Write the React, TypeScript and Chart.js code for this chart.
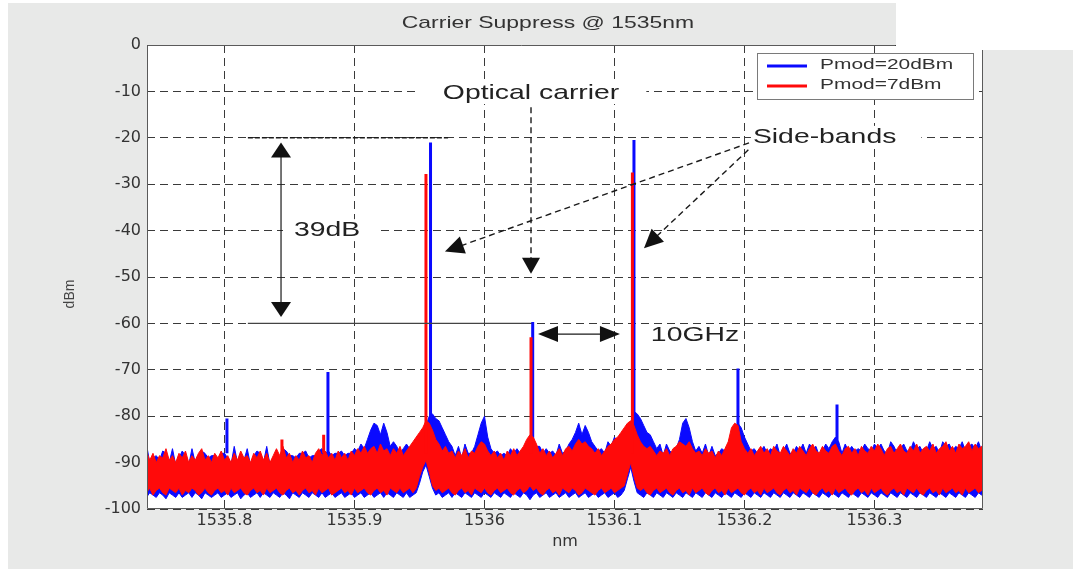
import React, { useEffect, useRef } from 'react';
import { Chart, registerables } from 'chart.js';

Chart.register(...registerables);

// ---------- texts ----------
const TITLE = 'Carrier Suppress @ 1535nm';
const X_LABEL = 'nm';
const Y_LABEL = 'dBm';
const SERIES_NAMES = ['Pmod=20dBm', 'Pmod=7dBm'];

// ---------- axes ----------
const X_MIN = 1535.7404;
const X_MAX = 1536.3835;
const Y_MIN = -100;
const Y_MAX = 0;
const X_TICKS = [1535.8, 1535.9, 1536, 1536.1, 1536.2, 1536.3];
const Y_TICKS = [-100, -90, -80, -70, -60, -50, -40, -30, -20, -10, 0];

// ---------- spectrum sampling grid (nm) ----------
const SAMPLE_START_NM = 1535.74;
const SAMPLE_STEP_NM = 0.0025;

// ---------- noise floor envelopes (dBm) ----------
const BLUE_FLOOR_TOP = [
  -86.0, -90.0, -89.0, -88.5, -89.5, -87.5, -88.0, -90.0, -87.0, -90.5,
  -89.0, -87.5, -88.5, -90.5, -87.0, -90.0, -88.5, -87.5, -88.0, -89.0,
  -88.5, -88.5, -89.5, -88.0, -88.0, -89.0, -90.5, -86.5, -90.0, -88.0,
  -89.5, -87.0, -90.5, -88.5, -87.5, -88.0, -90.0, -86.5, -90.5, -89.0,
  -87.5, -89.0, -87.0, -87.5, -88.5, -88.5, -89.0, -88.0, -88.0, -87.5,
  -89.0, -88.5, -88.5, -87.5, -87.0, -88.0, -87.5, -88.5, -88.0, -88.0,
  -87.5, -88.5, -88.0, -88.0, -87.0, -87.5, -86.0, -87.0, -85.0, -83.0,
  -81.5, -82.0, -84.0, -81.5, -83.5, -86.5, -85.5, -86.5, -88.0, -87.0,
  -86.0, -87.0, -86.0, -85.0, -84.0, -83.0, -82.0, -80.0, -79.5, -80.5,
  -81.0, -82.5, -84.0, -85.5, -86.5, -88.5, -86.5, -89.0, -86.0, -88.0,
  -88.0, -86.5, -84.0, -81.5, -80.0, -84.5, -87.0, -88.0, -87.5, -88.5,
  -88.0, -88.5, -87.0, -88.0, -87.0, -88.0, -87.5, -86.0, -85.0, -85.5,
  -86.5, -86.5, -88.0, -87.0, -88.0, -87.5, -88.5, -86.0, -88.0, -87.5,
  -86.0, -85.0, -83.5, -81.5, -84.0, -82.0, -83.5, -85.5, -86.5, -87.5,
  -87.0, -88.0, -85.5, -86.5, -84.5, -85.5, -84.0, -83.0, -82.0, -81.5,
  -79.0, -79.5, -80.5, -82.0, -83.5, -84.0, -85.5, -87.0, -86.0, -88.5,
  -86.0, -87.5, -88.0, -87.0, -85.0, -81.5, -80.5, -82.5, -85.5, -87.5,
  -86.5, -88.0, -86.0, -88.5, -86.5, -88.5, -88.0, -87.0, -87.5, -86.0,
  -84.0, -83.5, -81.5, -82.5, -84.5, -86.0, -87.5, -87.0, -88.0, -87.5,
  -86.5, -88.0, -87.0, -87.5, -86.0, -88.5, -87.5, -86.0, -88.0, -88.0,
  -86.5, -87.5, -86.0, -88.0, -86.0, -87.0, -86.5, -88.5, -87.5, -86.0,
  -87.0, -85.5, -84.5, -85.5, -88.0, -86.0, -87.5, -86.5, -87.5, -87.0,
  -87.5, -86.0, -87.0, -87.5, -86.0, -87.0, -86.0, -87.5, -88.0, -85.5,
  -86.5, -88.0, -87.0, -86.0, -87.5, -87.5, -85.5, -87.0, -86.5, -88.0,
  -87.5, -85.5, -87.0, -86.5, -88.0, -85.5, -86.5, -86.0, -87.5, -86.5,
  -87.0, -85.5, -87.5, -86.5, -86.0, -87.0, -85.5, -87.5, -86.5,
];
const BLUE_FLOOR_BOTTOM = [
  -97.5, -96.5, -97.0, -97.5, -96.5, -97.0, -97.8, -96.5, -97.0, -97.5,
  -96.5, -97.5, -97.0, -96.5, -97.5, -96.5, -97.0, -97.8, -96.5, -97.0,
  -97.5, -97.0, -96.5, -97.5, -97.0, -96.5, -97.5, -97.0, -96.5, -97.8,
  -97.0, -96.5, -97.5, -97.0, -96.5, -97.5, -96.5, -97.0, -97.5, -96.5,
  -97.0, -97.5, -96.5, -97.0, -97.8, -96.5, -97.0, -97.5, -96.5, -97.0,
  -97.5, -96.5, -97.0, -97.5, -96.5, -97.5, -97.0, -96.5, -97.5, -97.0,
  -96.5, -97.5, -97.0, -96.5, -97.5, -97.0, -96.5, -97.5, -97.0, -96.5,
  -97.5, -97.0, -96.5, -97.5, -96.5, -97.0, -97.5, -96.5, -97.0, -97.5,
  -96.5, -97.5, -97.0, -96.5, -94.5, -92.0, -90.5, -93.0, -95.5, -97.0,
  -96.5, -97.5, -97.0, -96.5, -97.5, -96.5, -97.0, -97.5, -96.5, -97.0,
  -97.5, -96.5, -97.0, -97.5, -96.5, -97.0, -97.5, -96.5, -97.0, -97.5,
  -96.5, -97.0, -97.5, -96.5, -97.0, -97.5, -96.5, -97.0, -98.0, -97.0,
  -96.5, -97.5, -97.0, -96.5, -97.5, -97.0, -96.5, -97.5, -97.0, -96.5,
  -97.5, -97.0, -96.5, -97.5, -97.0, -96.5, -97.5, -97.0, -96.5, -97.5,
  -97.0, -96.5, -97.5, -97.0, -96.5, -97.5, -97.0, -96.0, -93.5, -91.0,
  -94.0, -96.5, -97.0, -97.5, -96.5, -97.0, -97.5, -96.5, -97.0, -97.5,
  -96.5, -97.0, -97.5, -96.5, -97.0, -97.5, -96.5, -97.0, -97.5, -96.5,
  -97.0, -97.5, -96.5, -97.0, -97.5, -96.5, -97.0, -97.5, -96.5, -97.0,
  -97.5, -96.5, -97.0, -97.5, -96.5, -97.0, -97.5, -96.5, -97.0, -97.5,
  -96.5, -97.0, -97.5, -96.5, -97.0, -97.5, -96.5, -97.0, -97.5, -96.5,
  -97.0, -97.5, -96.5, -97.0, -97.5, -96.5, -97.0, -97.5, -96.5, -97.0,
  -97.5, -96.5, -97.0, -97.5, -96.5, -97.0, -97.5, -96.5, -97.0, -97.5,
  -96.5, -97.0, -97.5, -96.5, -97.0, -97.5, -96.5, -97.0, -97.5, -96.5,
  -97.0, -97.5, -96.5, -97.0, -97.5, -96.5, -97.0, -97.5, -96.5, -97.0,
  -97.5, -96.5, -97.0, -97.5, -96.5, -97.0, -97.5, -96.5, -97.0, -97.5,
  -96.5, -97.0, -97.5, -96.5, -97.0, -97.5, -96.5, -97.0, -97.5,
];
const RED_FLOOR_TOP = [
  -87.5, -89.5, -88.0, -90.0, -88.5, -89.0, -87.0, -89.5, -88.5, -90.0,
  -88.0, -89.0, -87.5, -90.0, -88.5, -89.5, -88.0, -87.0, -89.5, -88.5,
  -90.0, -88.0, -89.0, -87.5, -89.5, -88.5, -90.0, -88.0, -89.5, -87.5,
  -89.0, -88.5, -90.0, -88.0, -89.0, -87.5, -89.5, -88.0, -90.0, -88.5,
  -87.0, -88.5, -86.5, -89.0, -88.0, -90.0, -88.5, -89.5, -87.5, -89.0,
  -88.5, -90.0, -88.0, -87.0, -88.5, -87.5, -89.0, -88.0, -89.5, -87.5,
  -89.0, -88.0, -89.5, -87.5, -88.5, -87.0, -88.0, -86.5, -88.0, -87.0,
  -86.5, -88.0, -86.0, -87.5, -87.0, -88.5, -87.0, -88.0, -86.5, -88.5,
  -87.5, -86.5, -85.5, -84.5, -83.5, -82.5, -81.0, -81.5, -83.0, -85.0,
  -86.0, -87.5, -86.5, -88.0, -87.5, -89.0, -87.5, -88.5, -87.0, -89.0,
  -87.5, -88.0, -86.5, -85.5, -86.0, -87.5, -88.5, -87.5, -89.0, -88.0,
  -89.5, -87.5, -88.5, -87.0, -88.5, -87.5, -86.5, -85.0, -84.0, -84.5,
  -86.0, -88.0, -87.0, -88.5, -87.5, -89.0, -88.0, -87.0, -88.5, -87.0,
  -86.5, -87.5, -86.0, -85.0, -86.0, -85.5, -86.5, -87.0, -88.0, -87.0,
  -88.5, -87.5, -86.5, -86.0, -85.0, -84.5, -83.5, -82.5, -81.5, -81.0,
  -82.0, -84.0, -85.5, -86.5, -87.0, -86.5, -87.5, -88.5, -87.5, -88.0,
  -87.0, -88.5, -87.0, -86.5, -85.5, -86.0, -86.5, -85.5, -87.0, -88.0,
  -87.5, -88.5, -87.0, -88.0, -87.5, -89.0, -87.5, -88.5, -87.0, -85.5,
  -82.5, -81.5, -82.0, -85.5, -87.0, -88.0, -87.0, -88.5, -87.5, -86.5,
  -88.0, -87.0, -88.5, -86.5, -87.5, -88.0, -86.5, -87.5, -88.5, -87.0,
  -88.0, -86.5, -87.5, -88.5, -87.0, -86.0, -87.5, -88.0, -86.5, -87.5,
  -88.0, -86.5, -86.0, -87.5, -88.5, -87.0, -86.5, -88.0, -87.0, -88.5,
  -86.5, -87.5, -88.0, -86.5, -87.5, -86.0, -87.0, -88.5, -87.0, -86.5,
  -88.0, -87.0, -86.0, -87.5, -88.0, -86.5, -87.5, -86.0, -88.0, -87.0,
  -86.5, -87.5, -86.0, -88.0, -87.0, -86.5, -85.5, -87.5, -86.5, -88.0,
  -86.0, -87.0, -86.5, -85.5, -87.5, -86.0, -87.0, -86.5, -87.0,
];
const RED_FLOOR_BOTTOM = [
  -96.5, -95.5, -97.0, -96.0, -95.5, -96.5, -97.0, -95.5, -96.0, -96.5,
  -95.5, -97.0, -96.0, -96.5, -95.5, -96.0, -97.0, -96.5, -95.5, -96.5,
  -97.0, -96.0, -95.5, -96.5, -96.0, -97.0, -95.5, -96.5, -96.0, -95.5,
  -96.5, -97.0, -96.0, -95.5, -96.5, -96.0, -97.0, -95.5, -96.5, -96.0,
  -95.5, -96.5, -97.0, -96.0, -95.5, -96.5, -96.0, -97.0, -96.0, -95.5,
  -96.5, -96.0, -97.0, -95.5, -96.5, -96.0, -95.5, -97.0, -96.5, -96.0,
  -95.5, -96.5, -96.0, -97.0, -95.5, -96.5, -96.0, -95.5, -96.5, -97.0,
  -96.0, -95.5, -96.5, -96.0, -97.0, -95.5, -96.0, -96.5, -95.5, -96.5,
  -96.0, -95.5, -96.5, -95.5, -93.0, -91.0, -89.5, -92.0, -95.0, -96.0,
  -95.5, -96.5, -96.0, -95.5, -96.5, -97.0, -96.0, -95.5, -96.5, -96.0,
  -97.0, -95.5, -96.0, -96.5, -95.5, -96.5, -97.0, -96.0, -95.5, -96.5,
  -96.0, -95.5, -96.5, -97.0, -96.0, -95.5, -96.5, -96.0, -95.0, -96.0,
  -95.5, -96.5, -97.0, -96.0, -95.5, -96.5, -96.0, -97.0, -95.5, -96.0,
  -96.5, -95.5, -96.0, -97.0, -96.5, -95.5, -96.0, -96.5, -97.0, -96.0,
  -95.5, -96.5, -96.0, -95.5, -96.5, -96.0, -95.5, -95.0, -92.5, -90.0,
  -93.0, -95.5, -96.0, -95.5, -96.5, -97.0, -96.0, -95.5, -96.5, -96.0,
  -95.5, -96.5, -97.0, -96.0, -95.5, -96.5, -96.0, -97.0, -95.5, -96.5,
  -96.0, -95.5, -96.5, -97.0, -96.0, -95.5, -96.5, -96.0, -97.0, -95.5,
  -96.5, -96.0, -95.5, -96.5, -97.0, -96.0, -95.5, -96.5, -96.0, -97.0,
  -95.5, -96.5, -96.0, -95.5, -96.5, -97.0, -96.0, -95.5, -96.5, -96.0,
  -97.0, -95.5, -96.0, -96.5, -95.5, -96.5, -97.0, -96.0, -95.5, -96.5,
  -96.0, -97.0, -95.5, -96.5, -96.0, -95.5, -96.5, -97.0, -96.0, -95.5,
  -96.5, -96.0, -97.0, -95.5, -96.5, -96.0, -95.5, -96.5, -97.0, -96.0,
  -95.5, -96.5, -96.0, -97.0, -95.5, -96.0, -96.5, -95.5, -96.5, -97.0,
  -96.0, -95.5, -96.5, -96.0, -97.0, -95.5, -96.5, -96.0, -95.5, -96.5,
  -96.0, -97.0, -95.5, -96.5, -96.0, -95.5, -96.5, -96.0, -96.5,
];

// ---------- spectral lines (nm, peak dBm) ----------
const BLUE_LINE_NM = [1535.8019, 1535.8796, 1535.9585, 1536.0371, 1536.115, 1536.195, 1536.2712];
const BLUE_LINE_PEAK = [-80.5, -70.5, -21, -59.7, -20.5, -69.7, -77.5];
const RED_LINE_NM = [1535.8442, 1535.8763, 1535.955, 1536.0358, 1536.1138];
const RED_LINE_PEAK = [-85, -84, -27.8, -63, -27.5];
const LINE_BASE_DBM = -88;

// ---------- annotations (data units) ----------
const ANN_LABELS = [
  { text: 'Optical carrier', nm: 1535.968, dbm: -10.35, padL: 26, padR: 27 },
  { text: '39dB', nm: 1535.8535, dbm: -39.9, padL: 11, padR: 19 },
  { text: 'Side-bands', nm: 1536.2065, dbm: -19.8, padL: 2, padR: 25 },
  { text: '10GHz', nm: 1536.128, dbm: -62.5, padL: 0, padR: 0 },
];
const REF_TOP = { nm1: 1535.818, nm2: 1535.972, dbm: -20 };
const REF_BOTTOM = { nm1: 1535.818, nm2: 1536.036, dbm: -60 };
const DB_ARROW = { nm: 1535.8435, dbm1: -21, dbm2: -58.6 };
const CARRIER_ARROW = { nm: 1536.0358, dbm1: -13.4, dbm2: -49.3 };
const SIDEBAND_ARROWS = [
  { nm1: 1536.2035, dbm1: -21.1, nm2: 1535.9696, dbm2: -44.5 },
  { nm1: 1536.203, dbm1: -22.6, nm2: 1536.1227, dbm2: -43.8 },
];
const GHZ_ARROW = { nm1: 1536.0412, nm2: 1536.1042, dbm: -62.3 };

// ---------- style ----------
const BLUE = '#0a0aff';
const RED = '#ff0a0a';
const GREY_BG = '#e8e9e8';
const TEXT = '#333333';
const STRETCH = 1.35;
const SANS = '"Liberation Sans", Arial, Helvetica, sans-serif';

function floorPoints(values: number[]) {
  return values.map((y, i) => ({ x: SAMPLE_START_NM + i * SAMPLE_STEP_NM, y }));
}

function linePoints(xs: number[], peaks: number[]) {
  const pts: { x: number; y: number | null }[] = [];
  xs.forEach((x, k) => {
    pts.push({ x, y: LINE_BASE_DBM }, { x, y: peaks[k] }, { x, y: null });
  });
  return pts;
}

function sText(ctx: CanvasRenderingContext2D, text: string, x: number, y: number, size: number, align: CanvasTextAlign, color: string) {
  ctx.save();
  ctx.translate(x, y);
  ctx.scale(STRETCH, 1);
  ctx.font = `${size}px ${SANS}`;
  ctx.fillStyle = color;
  ctx.textAlign = align;
  ctx.textBaseline = 'middle';
  ctx.fillText(text, 0, 0);
  ctx.restore();
}

function sWidth(ctx: CanvasRenderingContext2D, text: string, size: number) {
  ctx.save();
  ctx.font = `${size}px ${SANS}`;
  const w = ctx.measureText(text).width * STRETCH;
  ctx.restore();
  return w;
}

function head(ctx: CanvasRenderingContext2D, tx: number, ty: number, fx: number, fy: number, len: number, hw: number) {
  const a = Math.atan2(ty - fy, tx - fx);
  const c = Math.cos(a), s = Math.sin(a);
  ctx.beginPath();
  ctx.moveTo(tx, ty);
  ctx.lineTo(tx - len * c + hw * s, ty - len * s - hw * c);
  ctx.lineTo(tx - len * c - hw * s, ty - len * s + hw * c);
  ctx.closePath();
  ctx.fill();
}

function segment(ctx: CanvasRenderingContext2D, x1: number, y1: number, x2: number, y2: number) {
  ctx.beginPath();
  ctx.moveTo(x1, y1);
  ctx.lineTo(x2, y2);
  ctx.stroke();
}

const decor = {
  id: 'decor',
  beforeDraw(chart: any) {
    const { ctx, chartArea: a, width, height } = chart;
    ctx.save();
    ctx.fillStyle = '#ffffff';
    ctx.fillRect(0, 0, width, height);
    ctx.fillStyle = GREY_BG;
    ctx.fillRect(8, 3, width - 8, height - 3);
    ctx.fillStyle = '#ffffff';
    ctx.fillRect(896, 0, width - 896, 50);
    ctx.fillRect(a.left, a.top, a.right - a.left, a.bottom - a.top);
    sText(ctx, TITLE, 548, 23, 17, 'center', TEXT);
    ctx.translate(70, 294);
    ctx.rotate(-Math.PI / 2);
    ctx.font = `14px ${SANS}`;
    ctx.fillStyle = '#444';
    ctx.textAlign = 'center';
    ctx.textBaseline = 'middle';
    ctx.fillText(Y_LABEL, 0, 0);
    ctx.restore();
  },
  afterDatasetsDraw(chart: any) {
    const { ctx } = chart;
    const X = (v: number) => chart.scales.x.getPixelForValue(v);
    const Y = (v: number) => chart.scales.y.getPixelForValue(v);
    ctx.save();
    ctx.strokeStyle = '#1a1a1a';
    ctx.fillStyle = '#111';

    ctx.lineWidth = 1.5;
    ctx.setLineDash([5, 2]);
    segment(ctx, X(REF_TOP.nm1), Y(REF_TOP.dbm), X(REF_TOP.nm2), Y(REF_TOP.dbm));
    ctx.setLineDash([]);
    ctx.lineWidth = 1.1;
    ctx.strokeStyle = '#444';
    segment(ctx, X(REF_BOTTOM.nm1), Y(REF_BOTTOM.dbm), X(REF_BOTTOM.nm2), Y(REF_BOTTOM.dbm));

    ANN_LABELS.forEach((l) => {
      const x = X(l.nm), y = Y(l.dbm);
      const w = sWidth(ctx, l.text, 21);
      if (l.padL || l.padR) {
        ctx.fillStyle = '#ffffff';
        ctx.fillRect(x - l.padL, y - 11, w + l.padL + l.padR, 22);
      }
      sText(ctx, l.text, x, y, 21, 'left', '#222');
    });

    ctx.strokeStyle = '#1a1a1a';
    ctx.fillStyle = '#111';
    {
      const x = X(DB_ARROW.nm), y1 = Y(DB_ARROW.dbm1), y2 = Y(DB_ARROW.dbm2);
      ctx.lineWidth = 1.2;
      segment(ctx, x, y1 + 10, x, y2 - 10);
      head(ctx, x, y1, x, y2, 15, 10);
      head(ctx, x, y2, x, y1, 15, 10);
    }
    {
      const x = X(CARRIER_ARROW.nm), y1 = Y(CARRIER_ARROW.dbm1), y2 = Y(CARRIER_ARROW.dbm2);
      ctx.lineWidth = 1.4;
      ctx.setLineDash([6, 4]);
      segment(ctx, x, y1, x, y2 - 14);
      ctx.setLineDash([]);
      head(ctx, x, y2, x, y1, 16, 9);
    }
    SIDEBAND_ARROWS.forEach((s) => {
      const x1 = X(s.nm1), y1 = Y(s.dbm1), x2 = X(s.nm2), y2 = Y(s.dbm2);
      const a = Math.atan2(y2 - y1, x2 - x1);
      ctx.lineWidth = 1.4;
      ctx.setLineDash([6, 4]);
      segment(ctx, x1, y1, x2 - 16 * Math.cos(a), y2 - 16 * Math.sin(a));
      ctx.setLineDash([]);
      head(ctx, x2, y2, x1, y1, 19, 9);
    });
    {
      const x1 = X(GHZ_ARROW.nm1), x2 = X(GHZ_ARROW.nm2), y = Y(GHZ_ARROW.dbm);
      ctx.lineWidth = 1.2;
      segment(ctx, x1 + 15, y, x2 - 15, y);
      head(ctx, x1, y, x2, y, 20, 8);
      head(ctx, x2, y, x1, y, 20, 8);
    }
    ctx.restore();
  },
  afterDraw(chart: any) {
    const { ctx, chartArea: a, width } = chart;
    ctx.save();
    ctx.fillStyle = '#ffffff';
    ctx.fillRect(896, 0, width - 896, 50);
    const L = Math.round(a.left) + 0.5, R = Math.round(a.right) - 0.5;
    const T = Math.round(a.top) + 0.5, B = Math.round(a.bottom) - 0.5;
    ctx.strokeStyle = '#5a5a5a';
    ctx.lineWidth = 1;
    ctx.beginPath();
    ctx.moveTo(L, T); ctx.lineTo(895, T);
    ctx.moveTo(L, T); ctx.lineTo(L, B); ctx.lineTo(R, B); ctx.lineTo(R, 50);
    ctx.stroke();
    const lx = Math.round(a.right) - 226, ly = Math.round(a.top) + 8;
    ctx.fillStyle = '#ffffff';
    ctx.fillRect(lx, ly, 216, 46);
    ctx.strokeStyle = '#7a7a7a';
    ctx.strokeRect(lx + 0.5, ly + 0.5, 216, 46);
    const colors = [BLUE, RED];
    SERIES_NAMES.forEach((name, k) => {
      const y = ly + 13 + k * 20;
      ctx.strokeStyle = colors[k];
      ctx.lineWidth = 3;
      segment(ctx, lx + 10, y, lx + 50, y);
      sText(ctx, name, lx + 63, y - 1, 15.5, 'left', TEXT);
    });
    ctx.restore();
  },
};

export default function App() {
  const ref = useRef<HTMLCanvasElement>(null);

  useEffect(() => {
    const canvas = ref.current;
    if (!canvas) return;
    const tickFont = { family: '"DejaVu Sans", Verdana, sans-serif', size: 16 };
    const chart = new Chart(canvas, {
      type: 'line',
      data: {
        datasets: [
          { label: SERIES_NAMES[1] + ' lines', data: linePoints(RED_LINE_NM, RED_LINE_PEAK), borderColor: RED, borderWidth: 3, pointRadius: 0, fill: false, spanGaps: false },
          { label: SERIES_NAMES[1], data: floorPoints(RED_FLOOR_TOP), borderColor: RED, backgroundColor: RED, borderWidth: 1, pointRadius: 0, fill: '+1', tension: 0 },
          { label: SERIES_NAMES[1] + ' floor', data: floorPoints(RED_FLOOR_BOTTOM), borderColor: RED, borderWidth: 1, pointRadius: 0, fill: false, tension: 0 },
          { label: SERIES_NAMES[0] + ' lines', data: linePoints(BLUE_LINE_NM, BLUE_LINE_PEAK), borderColor: BLUE, borderWidth: 3, pointRadius: 0, fill: false, spanGaps: false },
          { label: SERIES_NAMES[0], data: floorPoints(BLUE_FLOOR_TOP), borderColor: BLUE, backgroundColor: BLUE, borderWidth: 1, pointRadius: 0, fill: '+1', tension: 0 },
          { label: SERIES_NAMES[0] + ' floor', data: floorPoints(BLUE_FLOOR_BOTTOM), borderColor: BLUE, borderWidth: 1, pointRadius: 0, fill: false, tension: 0 },
        ] as any,
      },
      options: {
        animation: false,
        responsive: true,
        maintainAspectRatio: false,
        events: [],
        layout: { padding: { left: 0, right: 90, top: 45, bottom: 0 } },
        plugins: { legend: { display: false }, tooltip: { enabled: false }, title: { display: false } },
        scales: {
          x: {
            type: 'linear',
            min: X_MIN,
            max: X_MAX,
            afterBuildTicks: (s: any) => { s.ticks = X_TICKS.map((value) => ({ value })); },
            afterFit: (s: any) => { s.height = 60; },
            ticks: { font: tickFont, color: TEXT, padding: 2, maxRotation: 0, autoSkip: false, callback: (v: any) => String(v) },
            grid: { color: '#3a3a3a', lineWidth: 1, drawTicks: false },
            border: { display: false, dash: [8, 5] },
            title: { display: true, text: X_LABEL, font: { family: '"DejaVu Sans", Verdana, sans-serif', size: 16 }, color: TEXT, padding: { top: 0, bottom: 18 } },
          },
          y: {
            type: 'linear',
            min: Y_MIN,
            max: Y_MAX,
            afterBuildTicks: (s: any) => { s.ticks = Y_TICKS.map((value) => ({ value })); },
            afterFit: (s: any) => { s.width = 147; },
            ticks: { font: tickFont, color: TEXT, padding: 6, callback: (v: any) => String(v) },
            grid: { color: '#3a3a3a', lineWidth: 1, drawTicks: false },
            border: { display: false, dash: [8, 5] },
          },
        },
      } as any,
      plugins: [decor],
    });
    return () => chart.destroy();
  }, []);

  return (
    <div style={{ position: 'fixed', left: 0, top: 0, width: 1073, height: 569, background: '#fff' }}>
      <canvas ref={ref} style={{ display: 'block' }} />
    </div>
  );
}
